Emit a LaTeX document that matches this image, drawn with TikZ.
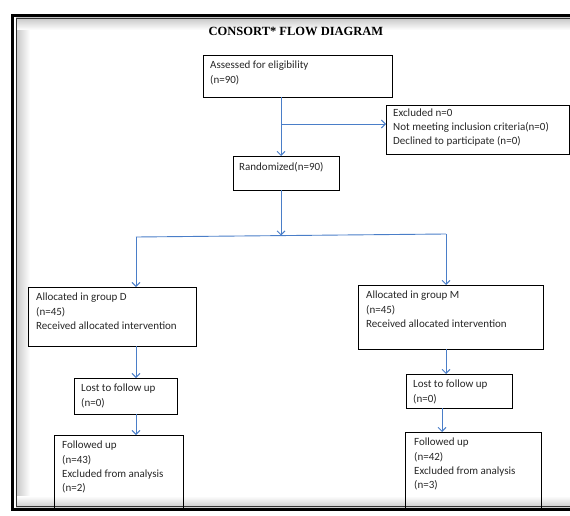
\documentclass[tikz,border=0pt]{standalone}
\usepackage{fontspec}
\setmainfont{Carlito}
\newfontfamily\titlefont{Liberation Serif}
\usepackage{tikz}
\usetikzlibrary{positioning,arrows.meta}
\definecolor{flowblue}{RGB}{74,126,200}
\tikzset{>={Straight Barb[length=4pt,width=8pt]}}
\tikzset{
  box/.style={draw=black, line width=0.9pt, anchor=north west, inner sep=0pt, outer sep=0pt},
  txt/.style={anchor=north west, align=left, inner xsep=7pt, inner ysep=6pt,
    font=\fontsize{11}{14.2}\selectfont, text=black!85},
  flow/.style={draw=flowblue, line width=0.9pt}
}

\begin{document}
\begin{tikzpicture}[x=1pt,y=-1pt]
	\useasboundingbox (0,0) rectangle (570,516);
	% frame with its shadow
	\shade[left color=black!22, right color=white] (16,18) rectangle (30,508);
	\shade[top color=black!22, bottom color=white] (16,18) rectangle (570,30);
	\shade[top color=white, bottom color=black!22] (16,496) rectangle (570,508);
	\draw[line width=3pt] (572,15.5) -| (12.5,509.5) -- (572,509.5);
	\draw[line width=1pt, black!80] (572,18.5) -| (16,506.5) -- (572,506.5);

	\node[font=\titlefont\bfseries\fontsize{12.5}{15}\selectfont] (title) at (296,31) {CONSORT* FLOW DIAGRAM};

	% boxes
	\node[box, minimum width=189, minimum height=42] (assess) at (203,55) {};
	\node[txt] at (assess.north west) {Assessed for eligibility\\(n=90)};
	\node[box, minimum width=183, minimum height=49] (excl) at (386,105) {};
	\node[txt, inner ysep=3.5pt] at (excl.north west) {Excluded n=0\\Not meeting inclusion criteria(n=0)\\Declined to participate (n=0)};
	\node[box, minimum width=106, minimum height=34] (rand) at (233,156) {};
	\node[txt, inner xsep=6pt] at (rand.north west) {Randomized(n=90)};

	\node[box, minimum width=168, minimum height=59] (groupD) at (28,287) {};
	\node[txt, inner xsep=8pt] at (groupD.north west) {Allocated in group D\\(n=45)\\Received allocated intervention};
	\node[box, minimum width=185, minimum height=64] (groupM) at (358,285) {};
	\node[txt, inner xsep=8pt] at (groupM.north west) {Allocated in group M\\(n=45)\\Received allocated intervention};

	\node[box, minimum width=103, minimum height=36] (lostD) at (74,378) {};
	\node[txt] at (lostD.north west) {Lost to follow up\\(n=0)};
	\node[box, minimum width=106, minimum height=34] (lostM) at (406,374) {};
	\node[txt] at (lostM.north west) {Lost to follow up\\(n=0)};

	\node[box, minimum width=129, minimum height=74] (followD) at (54,435) {};
	\node[txt, inner xsep=8pt] at (followD.north west) {Followed up\\(n=43)\\Excluded from analysis\\(n=2)};
	\node[box, minimum width=136, minimum height=77] (followM) at (405,432) {};
	\node[txt, inner xsep=9pt] at (followM.north west) {Followed up\\(n=42)\\Excluded from analysis\\(n=3)};

	% arrows
	\coordinate (midcol) at (281,0);
	\coordinate (branch) at (281,124);
	\coordinate (splitD) at (136,237);
	\coordinate (splitM) at (446,234);
	\coordinate (splitC) at (281,235.5);
	\coordinate (colM) at (442,0);
	\draw[flow,->] (assess.south -| midcol) -- (rand.north -| midcol);
	\draw[flow,->] (branch) -- (branch -| excl.west);
	\draw[flow,->] (rand.south -| midcol) -- (splitC);
	\draw[flow] (splitD) -- (splitM);
	\draw[flow,->] (splitD) -- (groupD.north -| splitD);
	\draw[flow,->] (splitM) -- (groupM.north -| splitM);
	\draw[flow,->] (groupD.south -| splitD) -- (lostD.north -| splitD);
	\draw[flow,->] (lostD.south -| splitD) -- (followD.north -| splitD);
	\draw[flow,->] (groupM.south -| splitM) -- (lostM.north -| splitM);
	\draw[flow,->] (lostM.south -| colM) -- (followM.north -| colM);
\end{tikzpicture}
\end{document}
